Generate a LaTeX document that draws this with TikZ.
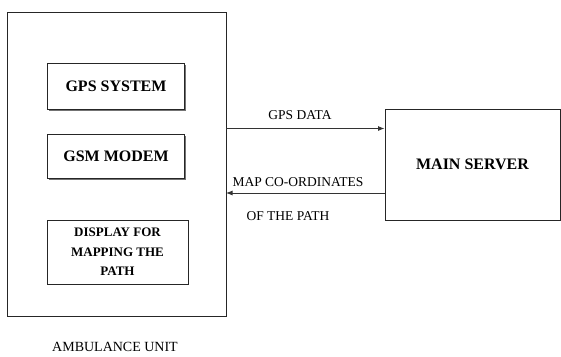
\documentclass[tikz,border=0pt]{standalone}
\usepackage{fontspec}
\setmainfont{Liberation Serif}
\usetikzlibrary{arrows.meta}
\begin{document}
\begin{tikzpicture}[x=1pt,y=-1pt,
  box/.style={draw=black!85,line width=0.9pt},
  inbox/.style={draw=black!85,line width=0.9pt,fill=white},
  shadowbox/.style={fill=black!55},
  lbl/.style={inner sep=0pt,font=\fontsize{13.5}{15}\selectfont},
  arr/.style={draw=black!80,line width=0.9pt,-{Latex[length=6.5pt,width=5pt]}}]
\useasboundingbox (0,0) rectangle (561,356);
% outer ambulance box
\draw[box] (7,12) rectangle (226,316);
% inner boxes with slight shadow
\fill[shadowbox] (48.5,64.5) rectangle (185.5,110.5);
\node[inbox,minimum width=137pt,minimum height=46pt,inner sep=0pt,
  font=\fontsize{16}{18}\selectfont\bfseries] (gps) at (116,86) {GPS SYSTEM};
\fill[shadowbox] (48.5,135.5) rectangle (185.5,179.5);
\node[inbox,minimum width=137pt,minimum height=44pt,inner sep=0pt,
  font=\fontsize{16}{18}\selectfont\bfseries] (gsm) at (116,156) {GSM MODEM};
\fill[shadowbox] (48.5,221.5) rectangle (189,285);
\node[inbox,minimum width=141pt,minimum height=64pt,inner sep=0pt,align=center,
  font=\fontsize{13}{19.5}\selectfont\bfseries] (disp) at (117.5,252) {DISPLAY FOR\\MAPPING THE\\PATH};
% main server
\node[box,minimum width=175pt,minimum height=111pt,inner sep=0pt,
  font=\fontsize{16}{18}\selectfont\bfseries] (srv) at (472.5,164.5) {MAIN SERVER};
% connectors
\coordinate (a1) at (226,128.5);
\coordinate (a2) at (226,193);
\draw[arr] (a1) -- (a1 -| srv.west);
\draw[arr] (a2 -| srv.west) -- (a2);
% labels
\node[lbl] (l1) at (300,115) {GPS DATA};
\node[lbl] (l2) at (298,182) {MAP CO-ORDINATES};
\node[lbl] (l3) at (288,216) {OF THE PATH};
\node[lbl,font=\fontsize{14}{16}\selectfont] (l4) at (115,347) {AMBULANCE UNIT};
\end{tikzpicture}
\end{document}
